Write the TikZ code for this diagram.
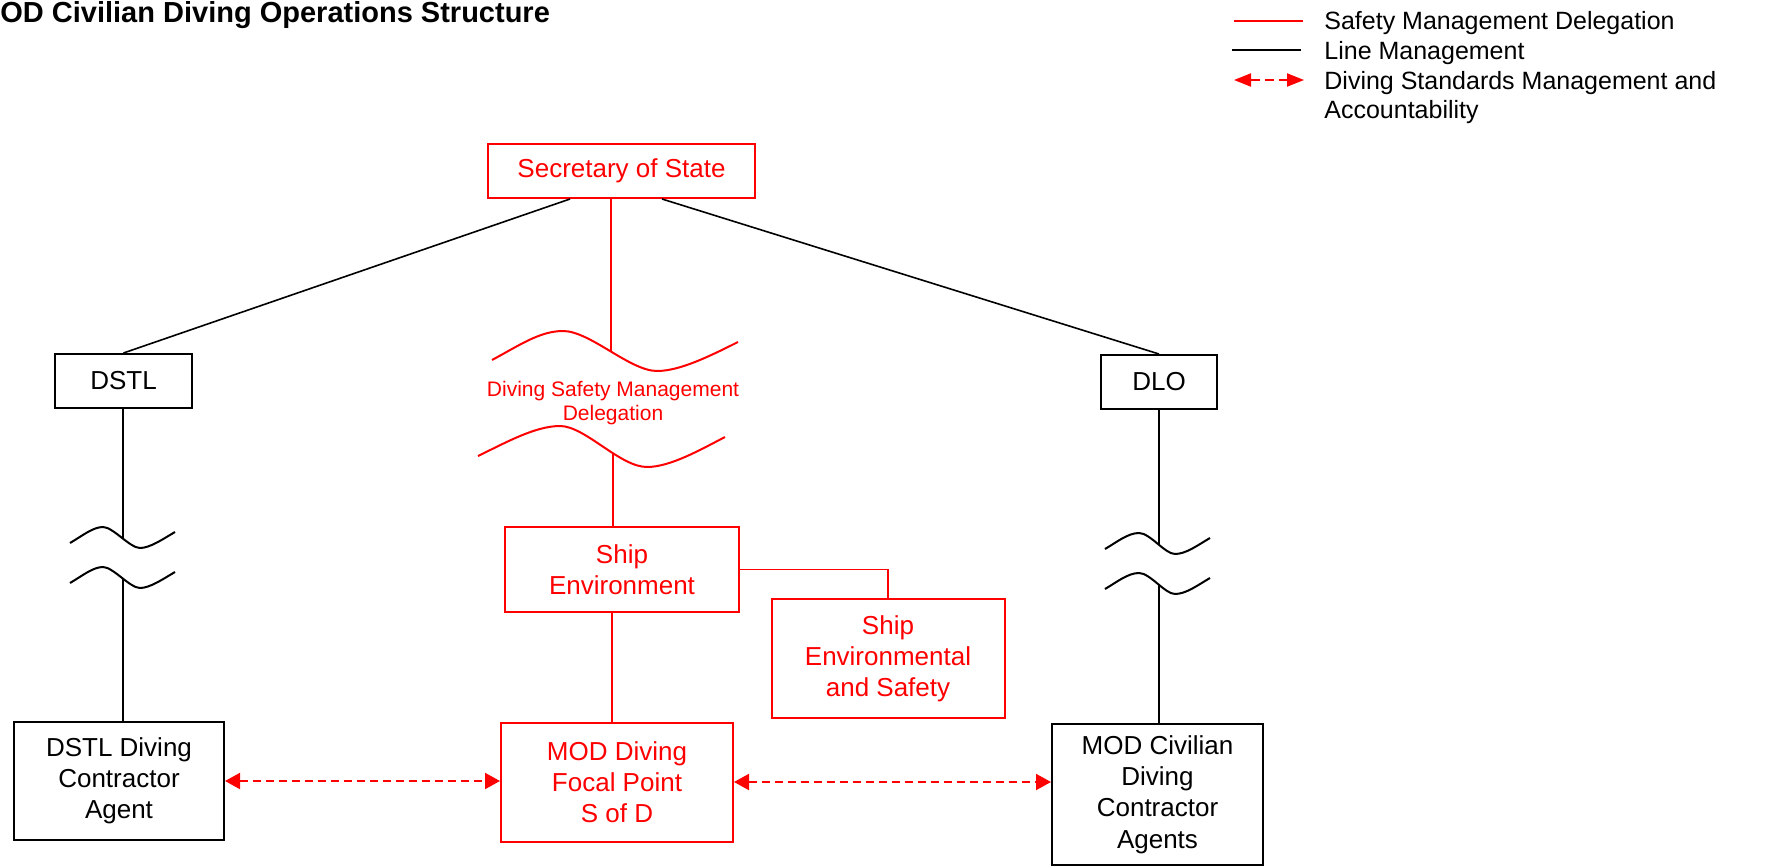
\documentclass[tikz,border=0pt]{standalone}
\usepackage{fontspec}
\setmainfont{Liberation Sans}
\usetikzlibrary{arrows.meta}
\begin{document}
\begin{tikzpicture}[x=0.5pt,y=-0.5pt,
  box/.style={draw, line width=1pt, inner sep=0pt, align=center, font=\fontsize{13}{15.6}\selectfont},
  redbox/.style={box, draw=red, text=red},
  blackbox/.style={box, draw=black, text=black},
  lm/.style={draw=black, line width=0.8pt},
  sm/.style={draw=red, line width=0.8pt},
  brkb/.style={draw=black, line width=1pt},
  brkr/.style={draw=red, line width=1pt},
  dsm/.style={draw=red, line width=1pt, dash pattern=on 4pt off 2.5pt, {Triangle[length=7.5pt,width=8pt]}-{Triangle[length=7.5pt,width=8pt]}},
  dsmleg/.style={draw=red, line width=1pt, dash pattern=on 4.5pt off 2.5pt, {Triangle[length=8.5pt,width=6.5pt]}-{Triangle[length=8.5pt,width=6.5pt]}},
  leg/.style={anchor=base west, inner sep=0pt, align=left, font=\fontsize{12.5}{14.5}\selectfont}
]
\useasboundingbox (0,0) rectangle (1774,867);

% title
\node[anchor=base west, inner sep=0pt, font=\bfseries\fontsize{14.5}{17}\selectfont] (title) at (0,22) {OD Civilian Diving Operations Structure};

% legend
\coordinate (l1a) at (1234,21); \coordinate (l1b) at (1303,21);
\coordinate (l2a) at (1232,50); \coordinate (l2b) at (1301,50);
\coordinate (l3a) at (1234,80); \coordinate (l3b) at (1304,80);
\draw[sm] (l1a) -- (l1b);
\draw[lm] (l2a) -- (l2b);
\draw[dsmleg] (l3a) -- (l3b);
\node[leg] (leg1) at (1324,30) {Safety Management Delegation};
\node[leg] (leg2) at (1324,59) {Line Management};
\node[leg] (leg3) at (1324,118) {Diving Standards Management and\\Accountability};

% boxes
\node[redbox, minimum width=133.5pt, minimum height=27pt] (sec) at (621.5,171) {Secretary of State};
\node[blackbox, minimum width=68.5pt, minimum height=27pt] (dstl) at (123.5,381) {DSTL};
\node[blackbox, minimum width=58pt, minimum height=27pt] (dlo) at (1159,382) {DLO};
\node[redbox, minimum width=117pt, minimum height=42.5pt] (shipenv) at (622,569.5) {Ship\\Environment};
\node[redbox, minimum width=116.5pt, minimum height=59.5pt] (shipsafe) at (888,658.5) {Ship\\Environmental\\and Safety};
\node[blackbox, minimum width=105pt, minimum height=59pt] (dstlagent) at (119,781) {DSTL Diving\\Contractor\\Agent};
\node[redbox, minimum width=116pt, minimum height=59.5pt] (mod) at (617,782) {MOD Diving\\Focal Point\\S of D};
\node[blackbox, minimum width=105.5pt, minimum height=70.5pt] (civ) at (1157.5,794.5) {MOD Civilian\\Diving\\Contractor\\Agents};

% delegation label between breaks
\node[text=red, align=center, inner sep=0pt, font=\fontsize{10.5}{12}\selectfont] (dsmd) at (613,403) {Diving Safety Management\\Delegation};

% line management from Secretary of State
\draw[lm] (570,0 |- sec.south) -- (dstl.north);
\draw[lm] (662,0 |- sec.south) -- (dlo.north);

% break marks (centre, red)
\draw[brkr] (492,360) .. controls (520,345) and (540,331) .. (563,331)
  .. controls (590,331) and (630,371) .. (657,371)
  .. controls (680,371) and (710,356) .. (738,342);
\draw[brkr] (478,456) .. controls (505,443) and (535,426) .. (560,426)
  .. controls (585,426) and (620,467) .. (647,467)
  .. controls (670,467) and (700,450) .. (725,437);
\coordinate (cw1) at (611,351);
\coordinate (cw2) at (613,453);
\draw[sm] (611,0 |- sec.south) -- (cw1);
\draw[sm] (cw2) -- (613,0 |- shipenv.north);
\draw[sm] (612,0 |- shipenv.south) -- (612,0 |- mod.north);
\draw[sm] (shipenv.east) -| (shipsafe.north);

% break marks (DSTL, black)
\draw[brkb] (70,543) .. controls (82,536) and (93,527) .. (103,527)
  .. controls (113,527) and (130,548) .. (140,548)
  .. controls (150,548) and (163,539) .. (175,532);
\draw[brkb] (70,583) .. controls (82,576) and (93,567) .. (103,567)
  .. controls (113,567) and (130,588) .. (140,588)
  .. controls (150,588) and (163,579) .. (175,572);
\coordinate (lw1) at (123,539);
\coordinate (lw2) at (123,579);
\draw[lm] (123,0 |- dstl.south) -- (lw1);
\draw[lm] (lw2) -- (123,0 |- dstlagent.north);

% break marks (DLO, black)
\draw[brkb] (1105,549) .. controls (1117,542) and (1128,533) .. (1139,533)
  .. controls (1150,533) and (1165,554) .. (1175,554)
  .. controls (1186,554) and (1198,545) .. (1210,538);
\draw[brkb] (1105,589) .. controls (1117,582) and (1128,573) .. (1139,573)
  .. controls (1150,573) and (1165,594) .. (1175,594)
  .. controls (1186,594) and (1198,585) .. (1210,578);
\coordinate (rw1) at (1159,544.5);
\coordinate (rw2) at (1159,584.5);
\draw[lm] (dlo.south) -- (rw1);
\draw[lm] (rw2) -- (1159,0 |- civ.north);

% diving standards arrows
\draw[dsm] (dstlagent.east) -- (dstlagent.east -| mod.west);
\draw[dsm] (mod.east) -- (mod.east -| civ.west);
\end{tikzpicture}
\end{document}
